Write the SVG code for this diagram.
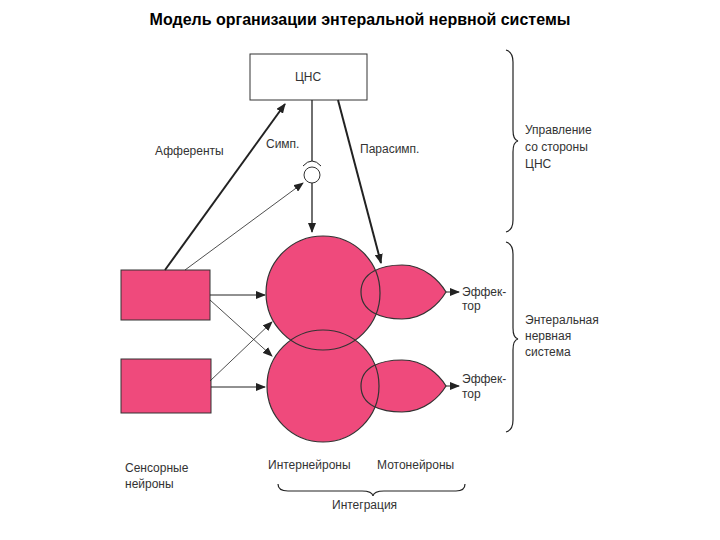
<svg xmlns="http://www.w3.org/2000/svg" width="720" height="540" viewBox="0 0 720 540">
<style>
text{font-family:"Liberation Sans",Arial,sans-serif;font-size:12px;fill:#333}
.f{fill:#ef4a7c;stroke:none}
.o{fill:none;stroke:#333;stroke-width:1.2}
.ln{stroke:#222;fill:none}
</style>
<defs>
<marker id="a" markerWidth="10" markerHeight="8" refX="9" refY="4" orient="auto" markerUnits="userSpaceOnUse"><path d="M0,0 L10,4 L0,8 Z" fill="#222"/></marker>
</defs>
<rect width="720" height="540" fill="#fff"/>
<text x="360" y="25" text-anchor="middle" style="font-size:16px;font-weight:bold;fill:#000">Модель организации энтеральной нервной системы</text>
<g id="cns"><rect x="250" y="54" width="117" height="46" fill="#fff" stroke="#333"/><text x="308" y="81" text-anchor="middle">ЦНС</text></g>
<g id="sensory1"><rect x="121" y="270" width="89" height="50" class="f" stroke="#333" style="stroke:#333"/></g>
<g id="sensory2"><rect x="121" y="359" width="90" height="54" class="f" style="stroke:#333"/></g>
<g id="neurons">
<circle cx="323" cy="293" r="57" class="f"/>
<circle cx="323" cy="386" r="56" class="f"/>
<path d="M361,292 C361,272 382,265 402,265 C425,265 440,282 446,292 C440,302 425,319 402,319 C382,319 361,312 361,292 Z" class="f"/>
<path d="M361,386 C361,366 382,360 402,360 C425,360 440,376 446,386 C440,396 425,412 402,412 C382,412 361,406 361,386 Z" class="f"/>
<circle cx="323" cy="293" r="57" class="o"/>
<circle cx="323" cy="386" r="56" class="o"/>
<path d="M361,292 C361,272 382,265 402,265 C425,265 440,282 446,292 C440,302 425,319 402,319 C382,319 361,312 361,292 Z" class="o"/>
<path d="M361,386 C361,366 382,360 402,360 C425,360 440,376 446,386 C440,396 425,412 402,412 C382,412 361,406 361,386 Z" class="o"/>
</g>
<g id="synapse"><circle cx="312" cy="175" r="8" fill="#fff" stroke="#333"/><path d="M303,166 Q312,156 321,166" class="ln"/></g>
<g id="connectors">
<line x1="165" y1="270" x2="285" y2="104" class="ln" stroke-width="2" marker-end="url(#a)"/>
<line x1="185" y1="270" x2="303" y2="183" class="ln" stroke-width="0.8" marker-end="url(#a)"/>
<line x1="312" y1="100" x2="312" y2="161" class="ln" stroke-width="1.3"/>
<line x1="312" y1="183" x2="312" y2="232" class="ln" stroke-width="1.3" marker-end="url(#a)"/>
<line x1="338" y1="100" x2="381" y2="263" class="ln" stroke-width="2" marker-end="url(#a)"/>
<line x1="210" y1="295" x2="265" y2="295" class="ln" marker-end="url(#a)"/>
<line x1="210" y1="300" x2="272" y2="356" class="ln" stroke-width="0.8" marker-end="url(#a)"/>
<line x1="210" y1="381" x2="272" y2="322" class="ln" stroke-width="0.8" marker-end="url(#a)"/>
<line x1="211" y1="387" x2="265" y2="387" class="ln" marker-end="url(#a)"/>
<line x1="446" y1="292" x2="459" y2="292" class="ln" marker-end="url(#a)"/>
<line x1="446" y1="386" x2="459" y2="386" class="ln" marker-end="url(#a)"/>
</g>
<g id="braces" class="ln" stroke-width="1.2">
<path d="M506,50 Q513,52 513,62 L513,130 Q513,140 518,141 Q513,142 513,152 L513,220 Q513,230 506,232"/>
<path d="M506,242 Q513,244 513,254 L513,328 Q513,338 518,339 Q513,340 513,350 L513,420 Q513,430 506,432"/>
<path d="M278,484 Q278,491 288,491 L362,491 Q372,491 373,496 Q374,491 384,491 L456,491 Q465,491 465,484"/>
</g>
<g id="labels">
<text x="155" y="155">Афференты</text>
<text x="266" y="148">Симп.</text>
<text x="360" y="153">Парасимп.</text>
<text x="462" y="296">Эффек-</text>
<text x="462" y="310">тор</text>
<text x="462" y="383">Эффек-</text>
<text x="462" y="398">тор</text>
<text x="525" y="134">Управление</text>
<text x="525" y="151">со стороны</text>
<text x="525" y="168">ЦНС</text>
<text x="525" y="324">Энтеральная</text>
<text x="525" y="340">нервная</text>
<text x="525" y="356">система</text>
<text x="125" y="472">Сенсорные</text>
<text x="125" y="488">нейроны</text>
<text x="268" y="469">Интернейроны</text>
<text x="377" y="469">Мотонейроны</text>
<text x="332" y="509">Интеграция</text>
</g>
</svg>
